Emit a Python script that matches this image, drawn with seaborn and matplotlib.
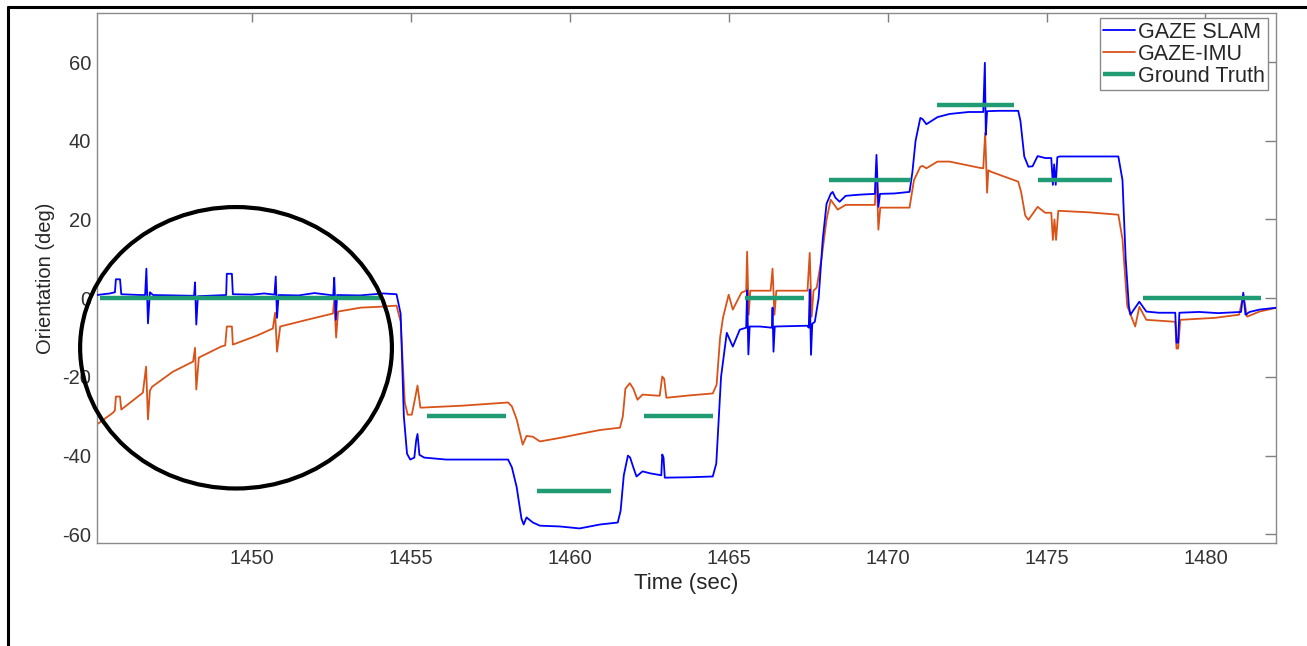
import numpy as np
import pandas as pd
import matplotlib
matplotlib.use("Agg")
import matplotlib.pyplot as plt
from matplotlib.patches import Ellipse
from matplotlib.lines import Line2D
import seaborn as sns

# ---------------- data ----------------
slam_t = [1445.12, 1445.53, 1445.69, 1445.72, 1445.85, 1445.89, 1446.48, 1446.64, 1446.68, 1446.73,
          1446.79, 1446.89, 1448.18, 1448.21, 1448.25, 1448.30, 1449.19, 1449.21, 1449.37, 1449.40,
          1450.00, 1450.39, 1450.71, 1450.75, 1450.79, 1450.84, 1451.47, 1451.97, 1452.56, 1452.59,
          1452.64, 1452.68, 1453.40, 1454.13, 1454.55, 1454.68, 1454.78, 1454.88, 1454.98, 1455.11,
          1455.17, 1455.21, 1455.27, 1455.42, 1456.11, 1457.10, 1458.06, 1458.18, 1458.33, 1458.48,
          1458.55, 1458.64, 1458.84, 1459.06, 1459.69, 1460.31, 1460.95, 1461.51, 1461.60, 1461.70,
          1461.83, 1461.90, 1462.00, 1462.10, 1462.29, 1462.53, 1462.88, 1462.91, 1462.95, 1462.99,
          1463.77, 1464.50, 1464.61, 1464.76, 1464.94, 1465.13, 1465.35, 1465.55, 1465.58, 1465.62,
          1465.66, 1465.98, 1466.36, 1466.38, 1466.41, 1466.45, 1467.47, 1467.52, 1467.55, 1467.59,
          1467.63, 1467.71, 1467.83, 1467.96, 1468.08, 1468.21, 1468.27, 1468.36, 1468.49, 1468.68,
          1469.12, 1469.60, 1469.65, 1469.71, 1469.76, 1470.21, 1470.69, 1470.78, 1470.88, 1471.03,
          1471.10, 1471.22, 1471.57, 1471.95, 1472.55, 1473.01, 1473.06, 1473.09, 1473.13, 1473.49,
          1474.11, 1474.18, 1474.30, 1474.43, 1474.56, 1474.72, 1474.96, 1475.15, 1475.20, 1475.24,
          1475.29, 1475.34, 1475.41, 1476.35, 1477.26, 1477.39, 1477.49, 1477.59, 1477.64, 1477.74,
          1477.92, 1478.14, 1478.53, 1479.05, 1479.09, 1479.14, 1479.18, 1479.80, 1480.40, 1481.12,
          1481.19, 1481.26, 1481.39, 1481.70, 1482.26]
slam_v = [0.8, 1.2, 1.5, 4.8, 4.8, 1.0, 0.8, 0.8, 7.5, -6.4,
          1.5, 0.8, 0.6, 4.0, -6.7, 0.5, 0.8, 6.2, 6.2, 1.0,
          0.9, 1.2, 0.9, 5.5, -5.0, 0.8, 0.7, 1.3, 0.7, 5.2,
          -5.5, 0.8, 0.7, 1.2, 1.0, -4.0, -30.0, -39.5, -41.0, -40.5,
          -36.0, -34.5, -39.8, -40.5, -41.0, -41.0, -41.0, -43.0, -48.0, -56.0,
          -57.5, -55.7, -57.0, -57.8, -58.0, -58.5, -57.5, -57.0, -54.0, -45.0,
          -40.0, -40.5, -43.0, -45.3, -44.0, -44.5, -45.0, -39.7, -40.5, -45.6,
          -45.5, -45.3, -42.0, -20.0, -8.8, -12.3, -8.0, -7.5, 2.0, -14.3,
          -7.2, -7.2, -7.5, -2.4, -13.6, -7.2, -7.0, -7.5, 2.2, -14.4,
          -6.5, -6.0, 0.0, 15.0, 24.0, 26.5, 27.0, 25.5, 24.5, 26.0,
          26.3, 26.5, 36.4, 23.2, 26.5, 26.6, 27.0, 32.0, 40.0, 45.8,
          45.5, 44.2, 46.0, 46.8, 47.3, 47.3, 59.8, 41.5, 47.5, 47.6,
          47.6, 45.0, 36.0, 33.4, 33.5, 36.1, 35.6, 35.6, 28.8, 34.0,
          28.8, 35.8, 36.0, 36.0, 36.0, 30.0, 10.0, -2.0, -4.2, -3.0,
          -0.9, -3.4, -3.7, -3.7, -11.3, -11.3, -3.7, -3.5, -3.8, -3.5,
          1.4, -4.2, -3.5, -2.9, -2.4]

imu_t = [1445.12, 1445.63, 1445.69, 1445.72, 1445.85, 1445.89, 1446.57, 1446.67, 1446.73, 1446.79,
         1446.86, 1447.51, 1448.15, 1448.21, 1448.25, 1448.33, 1449.03, 1449.16, 1449.21, 1449.37,
         1449.40, 1450.16, 1450.66, 1450.73, 1450.79, 1450.89, 1451.73, 1452.55, 1452.59, 1452.65,
         1452.71, 1453.43, 1453.97, 1454.55, 1454.68, 1454.81, 1454.90, 1455.03, 1455.12, 1455.21,
         1455.30, 1455.37, 1456.64, 1458.06, 1458.18, 1458.33, 1458.52, 1458.64, 1458.84, 1459.06,
         1459.69, 1460.31, 1460.95, 1461.58, 1461.67, 1461.75, 1461.89, 1462.00, 1462.13, 1462.29,
         1462.83, 1462.91, 1462.97, 1463.04, 1463.77, 1464.50, 1464.62, 1464.73, 1464.82, 1465.00,
         1465.13, 1465.40, 1465.55, 1465.58, 1465.63, 1465.68, 1466.32, 1466.38, 1466.44, 1466.50,
         1467.48, 1467.55, 1467.61, 1467.67, 1467.77, 1467.92, 1468.08, 1468.21, 1468.43, 1468.68,
         1469.60, 1469.65, 1469.71, 1469.77, 1470.69, 1470.83, 1471.03, 1471.10, 1471.22, 1471.57,
         1471.95, 1472.91, 1473.01, 1473.07, 1473.13, 1473.17, 1473.26, 1474.11, 1474.20, 1474.33,
         1474.43, 1474.72, 1474.96, 1475.15, 1475.20, 1475.25, 1475.30, 1475.37, 1476.35, 1477.26,
         1477.39, 1477.54, 1477.79, 1477.92, 1478.14, 1479.05, 1479.09, 1479.14, 1479.21, 1480.30,
         1481.06, 1481.19, 1481.31, 1481.70, 1482.26]
imu_v = [-32.1, -29.1, -28.5, -25.0, -25.0, -28.3, -24.0, -17.4, -30.8, -23.5,
         -22.5, -18.7, -16.1, -12.6, -23.2, -15.1, -12.3, -12.0, -7.2, -7.2,
         -11.8, -9.5, -7.7, -3.7, -13.6, -7.2, -5.5, -3.9, -0.4, -10.0,
         -3.4, -2.4, -2.2, -1.9, -6.0, -26.5, -29.6, -29.6, -26.0, -22.2,
         -27.8, -27.8, -27.3, -26.5, -27.5, -30.8, -37.2, -35.0, -35.2, -36.4,
         -35.5, -34.5, -33.5, -32.9, -30.0, -23.0, -21.6, -23.0, -25.8, -24.5,
         -24.8, -19.9, -20.5, -25.3, -24.7, -24.2, -22.0, -10.0, -5.0, 0.9,
         -2.9, 1.4, 1.9, 11.8, -4.2, 1.9, 1.9, 7.5, -4.2, 1.9,
         1.9, 11.5, -4.7, 1.9, 2.7, 10.0, 20.0, 25.0, 22.5, 23.7,
         23.7, 33.1, 17.4, 23.0, 23.0, 30.0, 33.4, 33.6, 33.0, 34.7,
         34.7, 33.1, 33.0, 42.0, 26.8, 32.5, 32.1, 29.6, 27.0, 21.0,
         19.9, 23.2, 21.7, 21.7, 14.8, 20.0, 14.8, 22.2, 21.8, 21.2,
         15.0, -2.0, -7.2, -2.2, -5.5, -6.0, -12.8, -12.8, -5.5, -5.0,
         -4.2, 0.9, -4.7, -3.4, -2.4]

gt_start = [1445.22, 1455.52, 1458.96, 1462.35, 1465.50, 1468.16, 1471.57, 1474.72, 1478.03]
gt_end   = [1454.03, 1458.00, 1461.29, 1464.50, 1467.37, 1470.73, 1473.98, 1477.07, 1481.76]
gt_value = [0, -30, -49, -30, 0, 30, 49, 30, 0]

x_ticks = [1450, 1455, 1460, 1465, 1470, 1475, 1480]
y_ticks = [-60, -40, -20, 0, 20, 40, 60]

# ---------------- style ----------------
sns.set_theme(style="white")
plt.rcParams["font.family"] = ["Liberation Sans", "DejaVu Sans"]
plt.rcParams["axes.unicode_minus"] = False

fig = plt.figure(figsize=(13.07, 6.46), dpi=100)
ax = fig.add_axes([97 / 1307, 1 - 543 / 646, (1276 - 97) / 1307, (543 - 13) / 646])

slam_df = pd.DataFrame({"t": slam_t, "v": slam_v})
imu_df = pd.DataFrame({"t": imu_t, "v": imu_v})

sns.lineplot(data=slam_df, x="t", y="v", ax=ax, color="#0000ff", lw=1.3,
             estimator=None, sort=False, label="GAZE SLAM", zorder=3)
sns.lineplot(data=imu_df, x="t", y="v", ax=ax, color="#D95319", lw=1.3,
             estimator=None, sort=False, label="GAZE-IMU", zorder=2)
ax.hlines(gt_value, gt_start, gt_end, colors="#1f9c74", lw=3.2, zorder=4,
          label="Ground Truth")

ell = Ellipse((1449.50, -12.6), 9.81, 71.5, fill=False, edgecolor="black",
              lw=3.0, clip_on=False, zorder=6)
ax.add_patch(ell)

ax.set_xlim(1445.126, 1482.22)
ax.set_ylim(-62.2, 72.45)
ax.set_xticks(x_ticks)
ax.set_yticks(y_ticks)
ax.set_xlabel("Time (sec)", fontsize=16, color="#262626", labelpad=4)
ax.set_ylabel("Orientation (deg)", fontsize=14.5, color="#262626", labelpad=5)
ax.tick_params(direction="in", top=True, right=True, width=1,
               color="#7f7f7f", labelsize=14.5, labelcolor="#333333")
ax.tick_params(axis="x", pad=4, length=6.3)
ax.tick_params(axis="y", pad=4.3, length=8)
for sp in ax.spines.values():
    sp.set_visible(True)
    sp.set_color("#8a8a8a")
    sp.set_linewidth(1.0)

leg = ax.legend(loc="upper right", bbox_to_anchor=(0.993, 0.99), borderaxespad=0,
                fontsize=15.5, frameon=True, fancybox=False, framealpha=1,
                edgecolor="#8a8a8a", handlelength=1.5, handletextpad=0.1,
                borderpad=0.15, labelspacing=0.05)
leg.get_frame().set_linewidth(1.0)
for txt in leg.get_texts():
    txt.set_color("#262626")

# outer black frame (top and left edges visible in the reference)
fig.add_artist(Line2D([8 / 1307, 1.0], [1 - 6.5 / 646, 1 - 6.5 / 646],
                      transform=fig.transFigure, color="black", lw=2.2))
fig.add_artist(Line2D([8 / 1307, 8 / 1307], [0.0, 1 - 6.5 / 646],
                      transform=fig.transFigure, color="black", lw=2.2))

fig.savefig("out.png", dpi=100)
